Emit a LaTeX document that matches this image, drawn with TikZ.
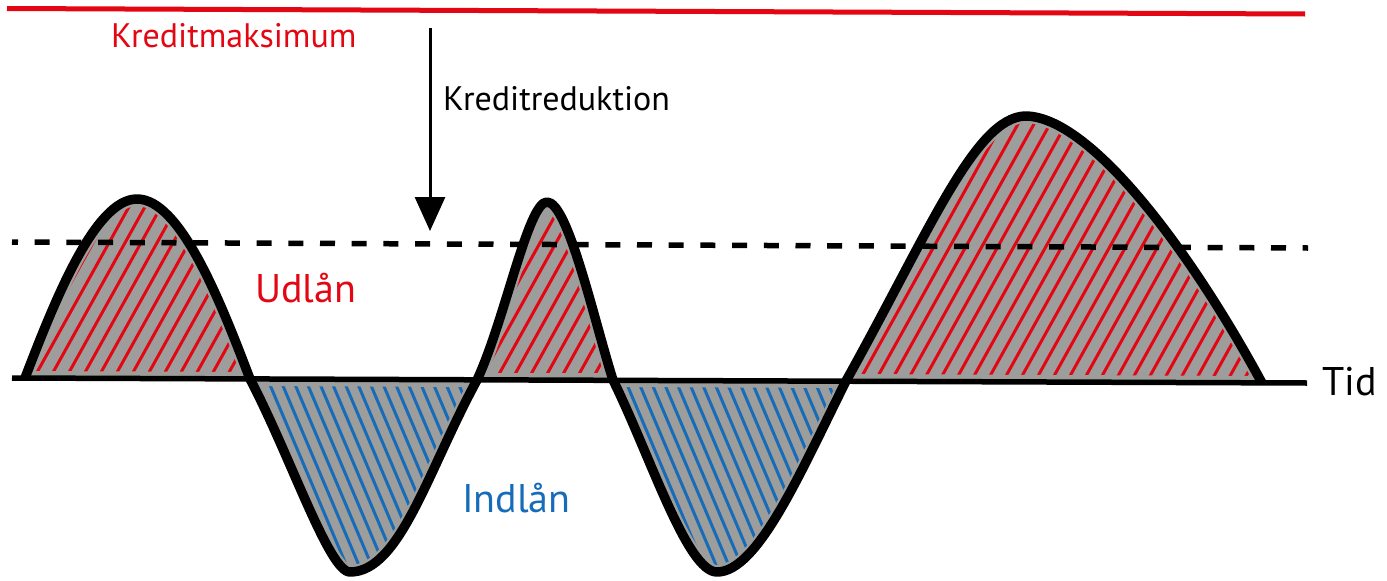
\documentclass[tikz,border=0pt]{standalone}
\usepackage{fontspec}
\setmainfont{PT Sans}
\usetikzlibrary{arrows.meta,positioning}
\definecolor{kred}{RGB}{227,6,19}
\definecolor{kblue}{RGB}{22,108,185}
\definecolor{kgray}{RGB}{157,157,156}
\newcommand{\lobeA}{(25,378) .. controls (55,300) and (95,199) .. (137,199) .. controls (180,199) and (220,300) .. (250,379)}
\newcommand{\lobeB}{.. controls (290,455) and (329,572) .. (350,572) .. controls (400,572) and (428,470) .. (477,380)}
\newcommand{\lobeC}{.. controls (505,320) and (528,202) .. (547,202) .. controls (568,202) and (594,320) .. (613,380)}
\newcommand{\lobeD}{.. controls (650,455) and (687,572) .. (717,572) .. controls (758,572) and (801,471) .. (846,381)}
\newcommand{\lobeE}{.. controls (930,230) and (975,118) .. (1025,116) .. controls (1090,116) and (1190,250) .. (1262,383)}

\begin{document}
\begin{tikzpicture}[x=1pt,y=-1pt,>={Triangle[width=30pt,length=34pt]},
 curve/.style={line width=9.5pt,line join=round},
 ax/.style={line width=5.5pt},
 dsh/.style={line width=5.5pt,dash pattern=on 15pt off 16.7pt,dash phase=9pt},
 hatchR/.style={draw=kred,line width=3pt},
 hatchB/.style={draw=kblue,line width=3pt},
 rim/.style={draw=kgray,line width=14pt},
 lab/.style={inner sep=0pt,font=\fontsize{34}{40}\selectfont},
 big/.style={inner sep=0pt,font=\fontsize{40}{48}\selectfont}]
\useasboundingbox (0,0) rectangle (1387,581);
\fill[kgray] \lobeA -- cycle;
\fill[kgray] (250,379) \lobeB -- cycle;
\fill[kgray] (477,380) \lobeC -- cycle;
\fill[kgray] (613,380) \lobeD -- cycle;
\fill[kgray] (846,381) \lobeE -- cycle;
\begin{scope}
\clip \lobeA -- cycle;
\foreach \x in {-82,-66,...,254} \draw[hatchR] (\x,385) -- ++(160,-288);
\draw[rim] \lobeA -- cycle;
\end{scope}
\begin{scope}
\clip (250,379) \lobeB -- cycle;
\foreach \x in {165,177.6,...,480} \draw[hatchB] (\x,375) -- ++(91,215);
\draw[rim] (250,379) \lobeB -- cycle;
\end{scope}
\begin{scope}
\clip (477,380) \lobeC -- cycle;
\foreach \x in {381,397,...,621} \draw[hatchR] (\x,385) -- ++(160,-288);
\draw[rim] (477,380) \lobeC -- cycle;
\end{scope}
\begin{scope}
\clip (613,380) \lobeD -- cycle;
\foreach \x in {522.2,534.8,...,850} \draw[hatchB] (\x,375) -- ++(91,215);
\draw[rim] (613,380) \lobeD -- cycle;
\end{scope}
\begin{scope}
\clip (846,381) \lobeE -- cycle;
\foreach \x in {697,713,...,1265} \draw[hatchR] (\x,385) -- ++(160,-288);
\draw[rim] (846,381) \lobeE -- cycle;
\end{scope}
\coordinate (k0) at (7,8.5);
\coordinate (k1) at (1305,14);
\coordinate (d0) at (12,242);
\coordinate (d1) at (1308,248);
\coordinate (a0) at (12,378);
\coordinate (a1) at (1307,383);
\coordinate (top) at (430,28);
\coordinate (cut) at (430,231);
\draw[kred,line width=5pt] (k0) -- (k1);
\draw[ax] (a0) -- (a1);
\draw[dsh] (d0) -- (d1);
\draw[curve] \lobeA \lobeB \lobeC \lobeD \lobeE;
\draw[->,line width=3pt] (top) -- (cut);
\node[lab,text=kred,anchor=base west] (maks) at (111,47) {Kreditmaksimum};
\node[lab,anchor=base west] (red) at (443,110) {Kreditreduktion};
\node[big,text=kred,anchor=base west] (ud) at (255,302) {Udlån};
\node[big,text=kblue,anchor=base west] (ind) at (462,512) {Indlån};
\node[big,anchor=base west] (tid) at (1322,395) {Tid};
\end{tikzpicture}
\end{document}
